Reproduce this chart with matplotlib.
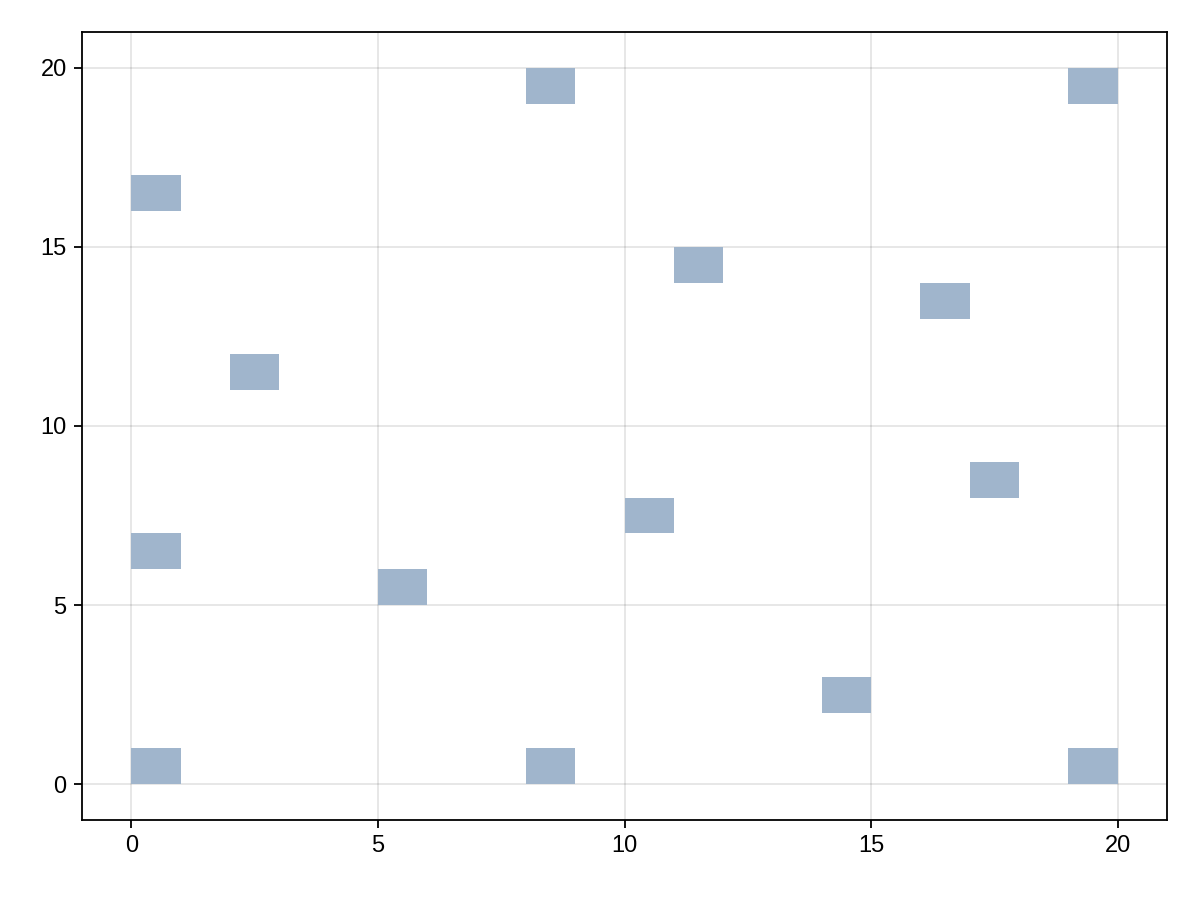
import matplotlib
matplotlib.use("Agg")
import matplotlib.pyplot as plt
from matplotlib.patches import Rectangle

# lower-left corners of the filled unit cells
cell_x = [0, 8, 19, 0, 5, 2, 0, 8, 11, 10, 14, 16, 17, 19]
cell_y = [0, 0, 0, 6, 5, 11, 16, 19, 14, 7, 2, 13, 8, 19]
cell_w = 1
cell_h = 1
ticks = [0, 5, 10, 15, 20]

plt.rcParams['font.family'] = ['Liberation Sans', 'DejaVu Sans']

fig = plt.figure(figsize=(12, 9), dpi=100)
ax = fig.add_axes([82/1200, 1 - 820/900, (1167-82)/1200, (820-32)/900])

for x, y in zip(cell_x, cell_y):
    ax.add_patch(Rectangle((x, y), cell_w, cell_h, facecolor='#a0b5cc',
                           edgecolor='none', zorder=3))

ax.set_xlim(-1, 21)
ax.set_ylim(-1, 21)
ax.set_xticks(ticks)
ax.set_yticks(ticks)
ax.grid(True, color='#000000', alpha=0.1, linewidth=1.3, zorder=0)
ax.set_axisbelow(True)
ax.tick_params(direction='out', length=6, width=1.3, labelsize=17, pad=5)
for s in ax.spines.values():
    s.set_linewidth(1.3)

fig.savefig("out.png", dpi=100)
